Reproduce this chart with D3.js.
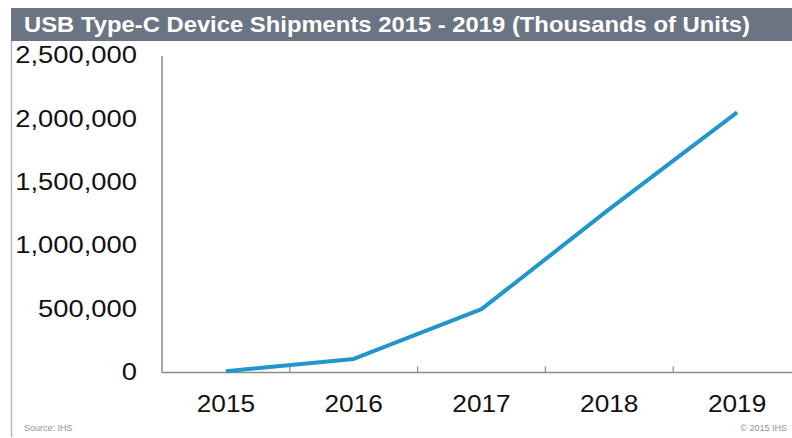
<!DOCTYPE html>
<html>
<head>
<meta charset="utf-8">
<script src="https://cdn.jsdelivr.net/npm/d3@7"></script>
<style>
    body { margin: 0; background: #fff; }
    text { font-family: "Liberation Sans", Arial, sans-serif; }
</style>
</head>
<body>
<div id="chart"></div>
<script>
// chart data
const years = ["2015", "2016", "2017", "2018", "2019"];
const shipments = [10000, 107000, 500000, 1290000, 2055000];
const yTicks = [0, 500000, 1000000, 1500000, 2000000, 2500000];
const titleText = "USB Type-C Device Shipments 2015 - 2019 (Thousands of Units)";
const sourceText = "Source: IHS";
const copyText = "\u00a9 2015 IHS";

const width = 792, height = 438;
const stretch = 1.14; // text in the picture is a little wide

let svg = d3.select("#chart").append("svg")
    .attr("width", width)
    .attr("height", height);

// frame
svg.append("line")
    .attr("x1", 11.5).attr("x2", 11.5)
    .attr("y1", 40).attr("y2", 437)
    .attr("stroke", "#b4b8be").attr("stroke-width", 1.5);

// title bar
svg.append("rect")
    .attr("x", 11).attr("y", 8)
    .attr("width", width - 11).attr("height", 33)
    .attr("fill", "#6b7482");

svg.append("text")
    .attr("x", 24).attr("y", 32)
    .attr("fill", "#fff")
    .attr("font-size", 22)
    .attr("font-weight", "bold")
    .attr("textLength", 726)
    .attr("lengthAdjust", "spacingAndGlyphs")
    .text(titleText);

// scales
let x = d3.scaleBand()
    .domain(years)
    .range([162, 162 + 5 * 127.8])
    .padding(0);

let y = d3.scaleLinear()
    .domain([0, 2500000])
    .range([372.5, 56]);

// y axis line
svg.append("line")
    .attr("x1", 162).attr("x2", 162)
    .attr("y1", y(2500000)).attr("y2", y(0))
    .attr("stroke", "#8c8c8c").attr("stroke-width", 1.5);

// x axis line + ticks between categories
svg.append("line")
    .attr("x1", 162).attr("x2", width)
    .attr("y1", y(0)).attr("y2", y(0))
    .attr("stroke", "#8c8c8c").attr("stroke-width", 1.5);

svg.selectAll(".xtick")
    .data(years.slice(1))
    .enter()
    .append("line")
    .attr("class", "xtick")
    .attr("x1", d => x(d)).attr("x2", d => x(d))
    .attr("y1", y(0) - 6).attr("y2", y(0))
    .attr("stroke", "#8c8c8c").attr("stroke-width", 1.2);

// y labels
let fmt = d3.format(",");
svg.selectAll(".ylabel")
    .data(yTicks)
    .enter()
    .append("text")
    .attr("class", "ylabel")
    .attr("x", 137)
    .attr("y", d => y(d) - 1)
    .attr("dy", "0.35em")
    .attr("text-anchor", "end")
    .attr("font-size", 24)
    .attr("fill", "#111")
    .text(d => fmt(d))
    .each(function () {
        let w = this.getComputedTextLength();
        d3.select(this).attr("textLength", w * stretch).attr("lengthAdjust", "spacingAndGlyphs");
    });

// x labels
svg.selectAll(".xlabel")
    .data(years)
    .enter()
    .append("text")
    .attr("class", "xlabel")
    .attr("x", d => x(d) + x.bandwidth() / 2)
    .attr("y", 404)
    .attr("dy", "0.35em")
    .attr("text-anchor", "middle")
    .attr("font-size", 23)
    .attr("fill", "#111")
    .text(d => d)
    .each(function () {
        let w = this.getComputedTextLength();
        d3.select(this).attr("textLength", w * stretch).attr("lengthAdjust", "spacingAndGlyphs");
    });

// the line
let line = d3.line()
    .x((d, i) => x(years[i]) + x.bandwidth() / 2)
    .y(d => y(d));

svg.append("path")
    .datum(shipments)
    .attr("d", line)
    .attr("fill", "none")
    .attr("stroke", "#2196cc")
    .attr("stroke-width", 4)
    .attr("stroke-linejoin", "round");

// footer
svg.append("text")
    .attr("x", 24).attr("y", 431)
    .attr("font-size", 9)
    .attr("fill", "#8a94a4")
    .text(sourceText);

svg.append("text")
    .attr("x", 787).attr("y", 431)
    .attr("text-anchor", "end")
    .attr("font-size", 9)
    .attr("fill", "#8a94a4")
    .text(copyText);
</script>
</body>
</html>
